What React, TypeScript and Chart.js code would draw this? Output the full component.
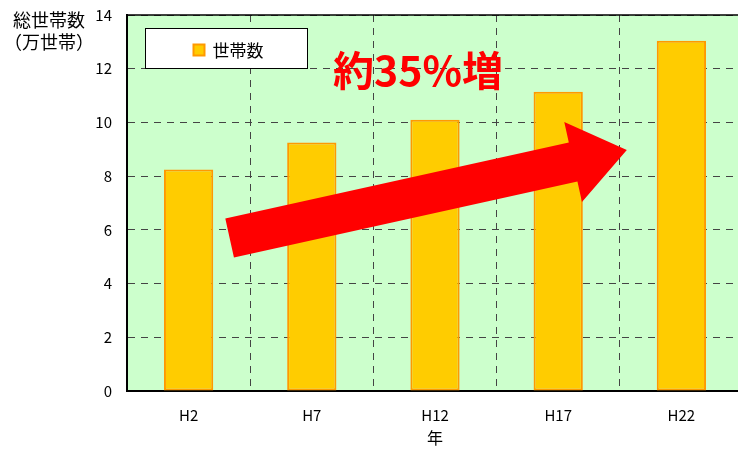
import React, { useEffect, useRef } from 'react';
import { Chart, registerables } from 'chart.js';

Chart.register(...registerables);

// ---- data ----
const categories = ['H2', 'H7', 'H12', 'H17', 'H22'];
const households = [8.25, 9.25, 10.1, 11.14, 13.04];
const seriesLabel = '世帯数';
const yTitleLines = ['総世帯数', '（万世帯）'];
const xTitle = '年';
const annotationText = '約35%増';
const yMin = 0;
const yMax = 14;
const yStep = 2;
// arrow annotation in data coordinates (category index, value)
const arrowFrom = { x: 0.333, y: 5.7 };
const arrowTo = { x: 3.557, y: 8.97 };

const FONT = '"Noto Sans CJK JP", "Noto Sans", sans-serif';

const decorPlugin = {
  id: 'decor',
  beforeDraw(chart: any) {
    const { ctx, chartArea: a } = chart;
    ctx.save();
    ctx.fillStyle = '#CCFFCC';
    ctx.fillRect(a.left, a.top, a.right - a.left, a.bottom - a.top);
    ctx.restore();
  },
  afterDatasetsDraw(chart: any) {
    const { ctx } = chart;
    const xs = chart.scales.x;
    const ys = chart.scales.y;
    const tx = xs.getPixelForValue(arrowFrom.x);
    const ty = ys.getPixelForValue(arrowFrom.y);
    const hx = xs.getPixelForValue(arrowTo.x);
    const hy = ys.getPixelForValue(arrowTo.y);
    const dx = hx - tx;
    const dy = hy - ty;
    const len = Math.hypot(dx, dy);
    const ux = dx / len;
    const uy = dy / len;
    const nx = -uy;
    const ny = ux;
    const w = 20;
    const h = 41;
    const L = 55;
    const bx = hx - ux * L;
    const by = hy - uy * L;
    ctx.save();
    ctx.fillStyle = '#FF0000';
    ctx.beginPath();
    ctx.moveTo(tx + nx * w, ty + ny * w);
    ctx.lineTo(bx + nx * w, by + ny * w);
    ctx.lineTo(bx + nx * h, by + ny * h);
    ctx.lineTo(hx, hy);
    ctx.lineTo(bx - nx * h, by - ny * h);
    ctx.lineTo(bx - nx * w, by - ny * w);
    ctx.lineTo(tx - nx * w, ty - ny * w);
    ctx.closePath();
    ctx.fill();
    ctx.restore();
  },
  afterDraw(chart: any) {
    const { ctx, chartArea: a } = chart;
    ctx.save();
    // top border
    ctx.strokeStyle = '#000';
    ctx.lineWidth = 1.5;
    ctx.beginPath();
    ctx.moveTo(a.left, a.top);
    ctx.lineTo(a.right, a.top);
    ctx.stroke();

    // legend box
    const lx = a.left + 18.5;
    const ly = a.top + 13.5;
    const lw = 162;
    const lh = 40;
    ctx.fillStyle = '#FFFFFF';
    ctx.fillRect(lx, ly, lw, lh);
    ctx.strokeStyle = '#000';
    ctx.lineWidth = 1;
    ctx.strokeRect(lx, ly, lw, lh);
    // legend marker
    ctx.fillStyle = '#FFCC00';
    ctx.strokeStyle = '#FF9900';
    ctx.lineWidth = 2;
    ctx.fillRect(lx + 48, ly + 16, 11, 11);
    ctx.strokeRect(lx + 48, ly + 16, 11, 11);
    ctx.fillStyle = '#000';
    ctx.font = `17px ${FONT}`;
    ctx.textAlign = 'left';
    ctx.textBaseline = 'middle';
    ctx.fillText(chart.data.datasets[0].label, lx + 67, ly + 22);

    // annotation text
    ctx.fillStyle = '#FF0000';
    ctx.font = `bold 41px ${FONT}`;
    ctx.textAlign = 'center';
    ctx.textBaseline = 'middle';
    ctx.fillText(annotationText, 418, 70);

    // y axis title (horizontal, top-left)
    ctx.fillStyle = '#000';
    ctx.font = `18px ${FONT}`;
    ctx.textAlign = 'center';
    ctx.fillText(yTitleLines[0], 49, 20);
    ctx.fillText(yTitleLines[1], 49, 42);
    ctx.restore();
  },
};

export default function App() {
  const ref = useRef<HTMLCanvasElement | null>(null);
  useEffect(() => {
    if (!ref.current) return;
    const chart = new Chart(ref.current, {
      type: 'bar',
      data: {
        labels: categories,
        datasets: [
          {
            label: seriesLabel,
            data: households,
            backgroundColor: '#FFCC00',
            borderColor: '#FF9900',
            borderWidth: 2,
            borderSkipped: false,
            barPercentage: 0.4,
            categoryPercentage: 1,
          },
        ],
      },
      options: {
        responsive: false,
        animation: false,
        devicePixelRatio: 1,
        events: [],
        layout: { padding: { top: 15, right: 0, bottom: 0, left: 0 } },
        plugins: {
          legend: { display: false },
          tooltip: { enabled: false },
        },
        scales: {
          x: {
            offset: true,
            grid: {
              display: true,
              offset: true,
              color: '#444',
              lineWidth: 1,
              drawTicks: false,
            },
            border: { display: true, color: '#000', width: 2, dash: [7, 6] },
            ticks: {
              color: '#000',
              font: { family: FONT, size: 15 },
              padding: 15,
              maxRotation: 0,
            },
            title: {
              display: true,
              text: xTitle,
              color: '#000',
              font: { family: FONT, size: 16 },
              padding: { top: 0, bottom: 1 },
            },
            afterFit(scale: any) {
              scale.height = 58;
              scale.paddingLeft = 0;
              scale.paddingRight = 0;
            },
          },
          y: {
            min: yMin,
            max: yMax,
            grid: {
              display: true,
              color: '#444',
              lineWidth: 1,
              drawTicks: false,
            },
            border: { display: true, color: '#000', width: 2, dash: [7, 6] },
            ticks: {
              stepSize: yStep,
              color: '#000',
              font: { family: FONT, size: 15 },
              padding: 15,
            },
            afterFit(scale: any) {
              scale.width = 127;
              scale.paddingTop = 0;
              scale.paddingBottom = 0;
            },
          },
        },
      },
      plugins: [decorPlugin],
    });
    return () => chart.destroy();
  }, []);

  return (
    <div
      style={{
        position: 'absolute',
        left: 0,
        top: 0,
        width: 738,
        height: 449,
        overflow: 'hidden',
        background: '#fff',
      }}
    >
      <canvas ref={ref} width={743} height={449} style={{ width: 743, height: 449, display: 'block' }} />
    </div>
  );
}
